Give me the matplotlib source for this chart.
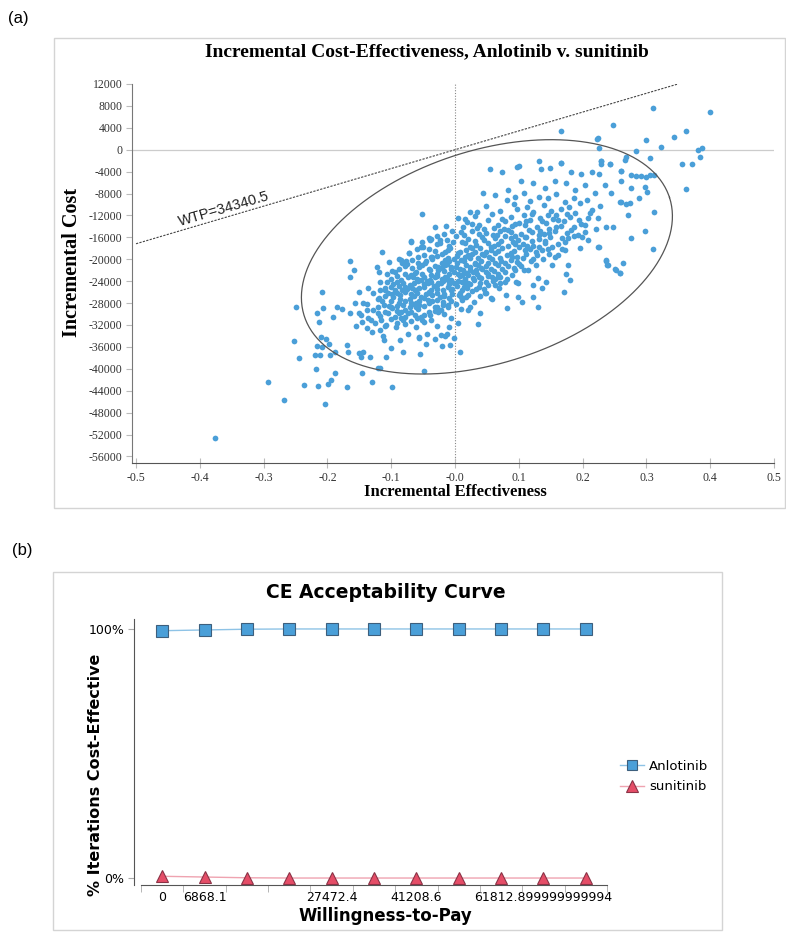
import numpy as np
import matplotlib
matplotlib.use('Agg')
import matplotlib.pyplot as plt
from matplotlib.patches import Rectangle

# ---------------- (a) cost-effectiveness plane, PSA iterations (effect, cost)
tail_low = [
    (-0.376, -52650), (-0.293, -42400), (-0.268, -45700), (-0.204, -46400), (-0.237, -43000),
    (-0.215, -43100), (-0.199, -42800), (-0.194, -42100), (-0.188, -40800), (-0.169, -43300),
    (-0.130, -42400), (-0.099, -43300), (-0.146, -40800), (-0.218, -40000), (-0.245, -38000),
    (-0.252, -34900), (-0.249, -28700), (-0.219, -37500), (-0.212, -37500), (-0.196, -37500),
    (-0.216, -35800), (-0.208, -36000), (-0.202, -34500), (-0.197, -35500), (-0.210, -34200),
    (-0.188, -36900), (-0.169, -35600), (-0.168, -36900), (-0.150, -37100), (-0.144, -36900),
    (-0.147, -37800), (-0.133, -37800), (-0.121, -39800), (-0.118, -39800), (-0.108, -37800),
    (-0.100, -36200), (-0.082, -36900), (-0.055, -37300), (-0.049, -40400), (-0.086, -34700),
    (-0.074, -33600), (-0.056, -34400), (-0.045, -35500), (-0.044, -33600), (-0.031, -34500),
    (-0.020, -35800), (-0.008, -35600), (-0.016, -34000), (-0.002, -34400), (0.008, -36900),
    (0.005, -31600), (-0.009, -32400), (-0.013, -33600),
]
cloud_left = [
    (-0.213, -31400), (-0.216, -29800), (-0.207, -28900), (-0.191, -30500), (-0.208, -26000),
    (-0.185, -28700), (-0.177, -29100), (-0.165, -23200), (-0.158, -21900), (-0.165, -20300),
    (-0.114, -18600), (-0.165, -29800), (-0.155, -32200), (-0.150, -29800), (-0.138, -32500),
    (-0.130, -33300), (-0.144, -28000), (-0.157, -28000), (-0.151, -26000), (-0.136, -25200),
    (-0.138, -29200), (-0.146, -31400), (-0.125, -31600), (-0.118, -32900), (-0.113, -34000),
    (-0.111, -34700), (-0.119, -27100), (-0.122, -21400), (-0.119, -22300), (-0.103, -20500),
    (-0.107, -24100), (-0.094, -22300), (-0.088, -19900), (-0.083, -20700), (-0.077, -20300),
    (-0.072, -18800), (-0.069, -16800), (-0.110, -25600), (-0.105, -26100), (-0.094, -25600),
    (-0.100, -28700), (-0.105, -29800), (-0.094, -30500), (-0.108, -32000), (-0.092, -32400),
    (-0.082, -31100), (-0.085, -29600), (-0.074, -29800), (-0.069, -28000), (-0.061, -28700),
    (-0.053, -30500), (-0.039, -30200), (-0.031, -28700), (-0.022, -29200), (-0.011, -28300),
    (-0.024, -26900), (-0.039, -26100), (-0.053, -26900), (-0.063, -25600), (-0.078, -25000),
    (-0.085, -23800), (-0.074, -23200), (-0.063, -22500), (-0.053, -23800), (-0.042, -24300),
    (-0.031, -23200), (-0.022, -24300), (-0.011, -23800), (-0.006, -25600), (-0.047, -20700),
    (-0.038, -19600), (-0.027, -21400), (-0.016, -20100), (-0.006, -21400), (-0.053, -17700),
    (-0.039, -16500), (-0.024, -17000), (-0.011, -18300), (0.005, -18800), (0.016, -17000),
    (0.024, -21900), (0.016, -24300), (0.010, -26900), (0.020, -29200), (-0.006, -30700),
    (-0.061, -32400),
]
cloud_core = [
    (0.062, -8300), (0.108, -7900), (0.131, -8600), (0.158, -8100), (0.186, -8800),
    (0.081, -9200), (0.117, -9400), (0.146, -8900), (0.172, -9600), (0.207, -9100),
    (0.048, -10200), (0.092, -9900), (0.113, -10500), (0.139, -10100), (0.178, -10400), (0.196, -9800), (0.228, -10300),
    (0.071, -11200), (0.097, -10900), (0.123, -11400), (0.151, -11100), (0.166, -10800), (0.188, -11500), (0.215, -11000),
    (0.031, -12100), (0.058, -11800), (0.087, -12300), (0.108, -12000), (0.134, -12400), (0.159, -11900), (0.181, -12200), (0.209, -12500),
    (0.019, -13200), (0.052, -12900), (0.078, -13100), (0.101, -13400), (0.118, -12800), (0.142, -13300), (0.153, -12700), (0.171, -13000), (0.198, -13500),
    (0.012, -14100), (0.038, -13800), (0.061, -14300), (0.089, -14000), (0.109, -13700), (0.128, -14200), (0.148, -14400), (0.166, -13900), (0.187, -14100), (0.221, -14500),
    (-0.018, -15300), (0.027, -14900), (0.049, -15200), (0.071, -14800), (0.088, -15100), (0.103, -15400), (0.121, -15000), (0.139, -15300), (0.157, -14800), (0.176, -15200),
    (-0.041, -16100), (0.002, -15800), (0.021, -16300), (0.042, -15900), (0.063, -16200), (0.079, -15700), (0.098, -16400), (0.112, -16000), (0.131, -16300), (0.149, -15900), (0.168, -16200), (0.199, -16000),
    (-0.028, -17200), (0.011, -16900), (0.033, -17400), (0.052, -17000), (0.068, -17300), (0.091, -16800), (0.106, -17200), (0.122, -17500), (0.141, -17000), (0.161, -17300),
    (-0.059, -18200), (-0.008, -18000), (0.018, -18400), (0.039, -17900), (0.057, -18300), (0.073, -18000), (0.092, -18500), (0.101, -17800), (0.118, -18200), (0.137, -18400), (0.168, -18100),
    (-0.049, -19300), (-0.021, -19000), (0.003, -19400), (0.027, -19100), (0.046, -19300), (0.062, -18900), (0.081, -19200), (0.097, -19500), (0.112, -19000), (0.128, -19300), (0.148, -19100),
    (-0.068, -20200), (-0.036, -20000), (-0.009, -20400), (0.009, -20100), (0.023, -19800), (0.041, -20300), (0.058, -20000), (0.072, -20400), (0.088, -20100), (0.119, -20300), (0.138, -20000),
    (-0.078, -21200), (-0.052, -21000), (-0.031, -21300), (-0.012, -20900), (0.001, -21400), (0.017, -21100), (0.032, -20800), (0.049, -21200), (0.068, -21000), (0.083, -21300), (0.101, -20900), (0.127, -21100),
    (-0.098, -22100), (-0.061, -22300), (-0.039, -21900), (-0.018, -22200), (-0.001, -22400), (0.012, -22000), (0.028, -22300), (0.043, -21800), (0.061, -22100), (0.079, -22400), (0.108, -22000),
    (-0.091, -23100), (-0.069, -22900), (-0.048, -23300), (-0.029, -23000), (-0.012, -23400), (0.008, -23100), (0.021, -22800), (0.037, -23200), (0.052, -23000), (0.071, -23300), (0.089, -22900),
    (-0.118, -24100), (-0.081, -24300), (-0.058, -23900), (-0.038, -24200), (-0.019, -24000), (-0.002, -24400), (0.011, -24100), (0.029, -23800), (0.048, -24200), (0.059, -24000), (0.098, -24300),
    (-0.109, -25200), (-0.088, -24900), (-0.068, -25300), (-0.049, -25000), (-0.028, -25400), (-0.011, -25100), (0.003, -24800), (0.019, -25200), (0.038, -25000), (0.069, -25300),
    (-0.128, -26100), (-0.098, -26300), (-0.079, -25900), (-0.059, -26200), (-0.041, -26000), (-0.018, -26400), (0.008, -26100), (0.027, -25800), (0.049, -26200),
    (-0.121, -27200), (-0.097, -26900), (-0.071, -27300), (-0.048, -27000), (-0.029, -27400), (-0.009, -27100), (0.018, -26800), (0.058, -27200),
    (-0.138, -28100), (-0.112, -28300), (-0.088, -27900), (-0.068, -28200), (-0.041, -28000), (-0.019, -28400), (0.002, -28100), (0.029, -27800),
    (-0.128, -29200), (-0.099, -28900), (-0.078, -29300), (-0.058, -29000), (-0.032, -29400), (0.009, -29100),
    (-0.148, -30100), (-0.118, -30300), (-0.088, -29900), (-0.049, -30200), (-0.018, -30000),
    (-0.131, -31100), (-0.101, -30900), (-0.069, -31200), (-0.038, -31000),
    (-0.109, -32100), (-0.079, -31900), (-0.028, -32200),
]
cloud_core2 = [
    (0.073, -12600), (0.121, -11700), (0.162, -12800), (0.094, -13600), (0.137, -13000), (0.027, -13500),
    (0.046, -14500), (0.077, -14400), (0.116, -14600), (0.158, -14200), (0.009, -15000), (0.059, -15600), (0.094, -15700), (0.131, -15600),
    (-0.012, -16500), (0.031, -16600), (0.072, -16600), (0.087, -16100), (0.121, -16700), (0.141, -16600),
    (-0.009, -17500), (0.023, -17700), (0.061, -17600), (0.083, -17500), (0.113, -17600), (0.152, -17700),
    (-0.032, -18500), (0.008, -18700), (0.031, -18600), (0.049, -18700), (0.087, -18800), (0.127, -18700),
    (-0.036, -19600), (-0.011, -19700), (0.016, -19600), (0.036, -19800), (0.054, -19600), (0.071, -19700), (0.107, -19700),
    (-0.058, -20600), (-0.021, -20600), (0.003, -20700), (0.031, -20600), (0.051, -20700), (0.079, -20700), (0.097, -20500),
    (-0.067, -21600), (-0.041, -21700), (-0.021, -21600), (0.008, -21700), (0.023, -21500), (0.041, -21600), (0.057, -21700), (0.092, -21600),
    (-0.079, -22600), (-0.051, -22700), (-0.029, -22600), (-0.009, -22700), (0.004, -22600), (0.018, -22500), (0.034, -22700), (0.052, -22600), (0.068, -22700),
    (-0.101, -23600), (-0.059, -23600), (-0.039, -23700), (-0.021, -23600), (-0.006, -23700), (0.016, -23600), (0.041, -23500), (0.063, -23600),
    (-0.097, -24600), (-0.071, -24700), (-0.048, -24600), (-0.029, -24700), (-0.009, -24600), (0.024, -24600), (0.051, -24700),
    (-0.117, -25600), (-0.083, -25600), (-0.061, -25700), (-0.038, -25600), (-0.019, -25700), (0.011, -25600), (0.033, -25500),
    (-0.109, -26700), (-0.086, -26600), (-0.064, -26700), (-0.036, -26600), (-0.017, -26700), (0.007, -26600), (0.039, -26700),
    (-0.101, -27600), (-0.079, -27700), (-0.056, -27600), (-0.036, -27700), (-0.006, -27600),
    (-0.121, -28700), (-0.091, -28600), (-0.071, -28700), (-0.049, -28600), (-0.011, -28700),
    (-0.109, -29600), (-0.069, -29700), (-0.041, -29600), (-0.136, -30700), (-0.079, -30600), (-0.059, -30700),
    (-0.091, -31600), (-0.049, -31500),
]
cloud_core3 = [
    (0.015, -12700), (0.067, -13700), (0.112, -13100), (0.146, -12000), (0.176, -11700), (0.194, -12900),
    (0.034, -14300), (0.083, -14700), (0.133, -14800), (0.182, -14700), (0.203, -15000),
    (-0.029, -15800), (0.014, -15500), (0.037, -15400), (0.066, -15500), (0.109, -15900), (0.148, -15200), (0.186, -15700),
    (-0.051, -16800), (-0.003, -16800), (0.046, -16500), (0.057, -17800), (0.094, -17200), (0.131, -17800), (0.173, -16900),
    (-0.041, -18100), (-0.016, -18600), (0.026, -18000), (0.067, -18500), (0.109, -18400), (0.146, -18200), (0.161, -19200),
    (-0.058, -19500), (-0.029, -19400), (-0.001, -19900), (0.021, -19300), (0.043, -19000), (0.089, -19600), (0.123, -19900),
    (-0.076, -20800), (-0.046, -20400), (-0.016, -21000), (0.014, -20400), (0.036, -21100), (0.063, -20600), (0.104, -21300),
    (-0.088, -21700), (-0.056, -21400), (-0.026, -22000), (-0.006, -21800), (0.033, -22000), (0.049, -22400), (0.074, -21800),
    (-0.106, -22700), (-0.066, -23200), (-0.038, -22800), (-0.016, -23200), (0.011, -22800), (0.028, -23400), (0.058, -23300), (0.081, -23600),
    (-0.091, -24100), (-0.064, -24300), (-0.044, -24000), (-0.026, -24400), (0.004, -23900), (0.021, -24300), (0.039, -24400), (0.071, -24300),
    (-0.101, -25100), (-0.076, -25500), (-0.056, -25200), (-0.033, -24900), (-0.004, -25400), (0.014, -25000), (0.046, -25400),
    (-0.091, -26100), (-0.069, -26400), (-0.046, -26400), (-0.028, -26100), (-0.004, -26300), (0.021, -26500),
    (-0.114, -27600), (-0.086, -27300), (-0.061, -27900), (-0.043, -27400), (-0.019, -27800), (0.011, -27500),
    (-0.104, -28600), (-0.081, -28400), (-0.056, -28300), (-0.029, -28800),
    (-0.121, -29800), (-0.091, -29400), (-0.063, -30100), (-0.026, -29700),
    (-0.116, -31000), (-0.084, -30800), (-0.051, -31000),
]
cloud_mid = [
    (0.055, -3500), (0.074, -4000), (0.097, -3100), (0.100, -2900), (0.132, -2000), (0.135, -3500),
    (0.149, -3300), (0.166, -2400), (0.182, -4000), (0.198, -4400), (0.215, -4000), (0.229, -2000),
    (0.243, -2600), (0.226, -4400), (0.260, -3800), (0.044, -7900), (-0.052, -11700), (0.005, -12400),
    (0.024, -11300), (0.034, -11300), (-0.031, -14100), (-0.014, -13900), (-0.005, -14800), (-0.069, -16600),
    (-0.037, -16300), (-0.024, -16500), (-0.050, -17700), (-0.072, -18800), (-0.085, -20100), (0.083, -7300),
    (0.094, -8600), (0.103, -5800), (0.122, -6000), (0.141, -6900), (0.157, -5800), (0.174, -6000),
    (0.188, -7300), (0.204, -6400), (0.219, -7900), (0.235, -6400), (0.245, -7900), (0.259, -9500),
    (0.268, -9900), (0.237, -14100), (0.248, -14100), (0.224, -12400), (0.212, -11500), (0.204, -13700),
    (0.193, -15500), (0.208, -16500), (0.196, -17900), (0.224, -17700), (0.237, -20100), (0.238, -21000),
    (0.251, -21800), (0.259, -22500), (0.177, -16100), (0.172, -18300), (0.177, -21000), (0.174, -22700),
    (0.180, -23800), (0.171, -26000), (0.152, -21000), (0.157, -19600), (0.143, -24100), (0.136, -25200),
    (0.122, -26900), (0.130, -28700), (0.105, -27800), (0.099, -26900), (0.082, -28900), (0.080, -26500),
    (0.036, -31800), (-0.022, -33800), (-0.056, -34200), (0.047, -26100), (0.063, -24700), (0.056, -27100),
    (0.039, -29800), (0.024, -28700), (0.078, -24100), (0.096, -24100), (0.122, -24700), (0.130, -23400),
    (0.114, -21900), (0.094, -21900), (0.067, -23200),
]
cloud_high = [
    (0.310, 7700), (0.400, 6800), (0.248, 4600), (0.166, 3500), (0.224, 2200), (0.223, 2000),
    (0.299, 1800), (0.343, 2400), (0.362, 3500), (0.226, 400), (0.284, -200), (0.323, 500),
    (0.381, 0), (0.387, 400), (0.384, -1300), (0.306, -1500), (0.356, -2600), (0.371, -2600),
    (0.166, -2400), (0.229, -2000), (0.243, -2600), (0.266, -1800), (0.268, -1300), (0.260, -3800),
    (0.276, -4600), (0.284, -4800), (0.292, -4800), (0.299, -4900), (0.306, -4600), (0.312, -4600),
    (0.362, -7100), (0.301, -7700), (0.298, -6800), (0.288, -8800), (0.274, -9700), (0.312, -11300),
    (0.271, -11900), (0.260, -9500), (0.276, -6900), (0.260, -5700), (0.298, -14800), (0.276, -16100),
    (0.310, -18100), (0.237, -20300), (0.240, -21000), (0.252, -21900), (0.263, -20700), (0.259, -22500),
    (0.226, -17700), (0.229, -2600),
]

wtp_threshold = 34340.5
wtp_line_x = [-0.5, 0.35]

# confidence ellipse as drawn: centre and half-axis vectors (data units)
ell_centre = (0.050, -19560)
ell_u = (0.2862, 10840)
ell_v = (0.0514, -18445)

# ---------------- (b) CE acceptability curve
wtp = [0, 6868.1, 13736.2, 20604.3, 27472.4, 34340.5, 41208.6, 48076.7, 54944.8, 61812.9, 68681.0]
wtp_shown = [0, 1, 4, 6, 9]
wtp_labels = ['0', '6868.1', '27472.4', '41208.6', '61812.899999999994']
p_anlotinib = [0.993, 0.996, 0.999, 1.0, 1.0, 1.0, 1.0, 1.0, 1.0, 1.0, 1.0]
p_sunitinib = [0.007, 0.004, 0.001, 0.0, 0.0, 0.0, 0.0, 0.0, 0.0, 0.0, 0.0]

W, H = 786, 932
fig = plt.figure(figsize=(W / 100, H / 100), dpi=100)


def fx(px):
    return px / W


def fy(py):
    return 1 - py / H


serif = 'Liberation Serif'

# ---- panel (a)
fig.patches.append(Rectangle((fx(54), fy(508)), fx(785) - fx(54), fy(38) - fy(508),
                             transform=fig.transFigure, fill=False, ec='#d4d4d4', lw=1))
ax = fig.add_axes([fx(132), fy(463), fx(774) - fx(132), fy(84) - fy(463)])

pts = np.array(tail_low + cloud_left + cloud_core + cloud_core2 + cloud_core3 + cloud_mid + cloud_high)
ax.axhline(0, color='#cccccc', lw=0.9, zorder=1)
ax.axvline(0, color='#888888', lw=0.8, ls=(0, (1, 1.5)), zorder=1)
ax.scatter(pts[:, 0], pts[:, 1], s=17, color='#4a9fd8', linewidths=0, zorder=3)

t = np.linspace(0, 2 * np.pi, 300)
ex = ell_centre[0] + ell_u[0] * np.cos(t) + ell_v[0] * np.sin(t)
ey = ell_centre[1] + ell_u[1] * np.cos(t) + ell_v[1] * np.sin(t)
ax.plot(ex, ey, color='#555555', lw=0.9, zorder=4)

lx = np.array(wtp_line_x)
ax.plot(lx, wtp_threshold * lx, color='#444444', lw=0.8, ls=(0, (2, 1.2)), zorder=4)
ax.text(-0.362, -10800, 'WTP=%s' % wtp_threshold, rotation=16.3, ha='center', va='center',
        fontsize=10.5, family='Liberation Sans', color='#222222')

ax.set_xlim(-0.5063, 0.5)
ax.set_ylim(-57200, 12000)
xt = np.round(np.arange(-0.5, 0.51, 0.1), 1)
ax.set_xticks(xt)
ax.set_xticklabels(['%.1f' % v for v in xt])
yt = np.arange(-56000, 12001, 4000)
ax.set_yticks(yt)
ax.set_yticklabels([str(v) for v in yt])
for s in ['top', 'right']:
    ax.spines[s].set_visible(False)
ax.spines['left'].set_color('#777777')
ax.spines['bottom'].set_color('#555555')
ax.tick_params(axis='y', length=4, color='#bbbbbb', pad=3, labelsize=8.5)
ax.tick_params(axis='x', direction='inout', length=7, color='#bbbbbb', pad=3, labelsize=8.5)
for lab in ax.get_xticklabels() + ax.get_yticklabels():
    lab.set_family(serif)
    lab.set_color('#333333')

fig.text(fx(18), fy(18), '(a)', fontsize=12, family='Liberation Sans', ha='center', va='center')
fig.text(fx(427), fy(52), 'Incremental Cost-Effectiveness, Anlotinib v. sunitinib',
         family=serif, weight='bold', fontsize=14, ha='center', va='center')
fig.text(fx(72), fy(262), 'Incremental Cost', family=serif, weight='bold', fontsize=14.5,
         rotation=90, ha='center', va='center')
fig.text(fx(455), fy(492), 'Incremental Effectiveness', family=serif, weight='bold',
         fontsize=12, ha='center', va='center')

# ---- panel (b)
fig.patches.append(Rectangle((fx(53), fy(930)), fx(722) - fx(53), fy(572) - fy(930),
                             transform=fig.transFigure, fill=False, ec='#d4d4d4', lw=1))
bx = fig.add_axes([fx(141), fy(885), fx(607) - fx(141), fy(619) - fy(885)])
pos = np.arange(len(wtp))
bx.plot(pos, p_anlotinib, color='#8ec3e6', lw=1.0, marker='s', ms=8,
        mfc='#4a9fd8', mec='#3d5f7d', mew=0.8, label='Anlotinib', zorder=3)
bx.plot(pos, p_sunitinib, color='#efa3b0', lw=1.0, marker='^', ms=9,
        mfc='#e54d67', mec='#8a3346', mew=0.8, label='sunitinib', zorder=3)
bx.set_xlim(-0.5, len(wtp) - 0.5)
bx.set_ylim(-0.028, 1.04)
bx.set_xticks(wtp_shown)
bx.set_xticklabels(wtp_labels)
bx.set_xticks(np.arange(-0.5, len(wtp), 1), minor=True)
bx.set_yticks([0, 1])
bx.set_yticklabels(['0%', '100%'])
for s in ['top', 'right']:
    bx.spines[s].set_visible(False)
bx.spines['left'].set_position(('outward', 5))
bx.spines['left'].set_color('#555555')
bx.spines['bottom'].set_color('#555555')
bx.tick_params(axis='x', which='major', length=0, pad=4, labelsize=9)
bx.tick_params(axis='x', which='minor', length=5, color='#aaaaaa')
bx.tick_params(axis='y', length=4, color='#aaaaaa', pad=3, labelsize=9)

bx.legend(loc='upper left', bbox_to_anchor=(fx(608), fy(748)), bbox_transform=fig.transFigure,
          frameon=False, fontsize=9.5, handlelength=1.8, handletextpad=0.4,
          labelspacing=0.55, numpoints=1, markerscale=0.9)

fig.text(fx(22), fy(550), '(b)', fontsize=12, family='Liberation Sans', ha='center', va='center')
fig.text(fx(386), fy(593), 'CE Acceptability Curve', weight='bold', fontsize=13.5,
         ha='center', va='center')
fig.text(fx(96), fy(775), '% Iterations Cost-Effective', weight='bold', fontsize=11.5,
         rotation=90, ha='center', va='center')
fig.text(fx(385), fy(916), 'Willingness-to-Pay', weight='bold', fontsize=12,
         ha='center', va='center')

fig.savefig('out.png', dpi=100)
